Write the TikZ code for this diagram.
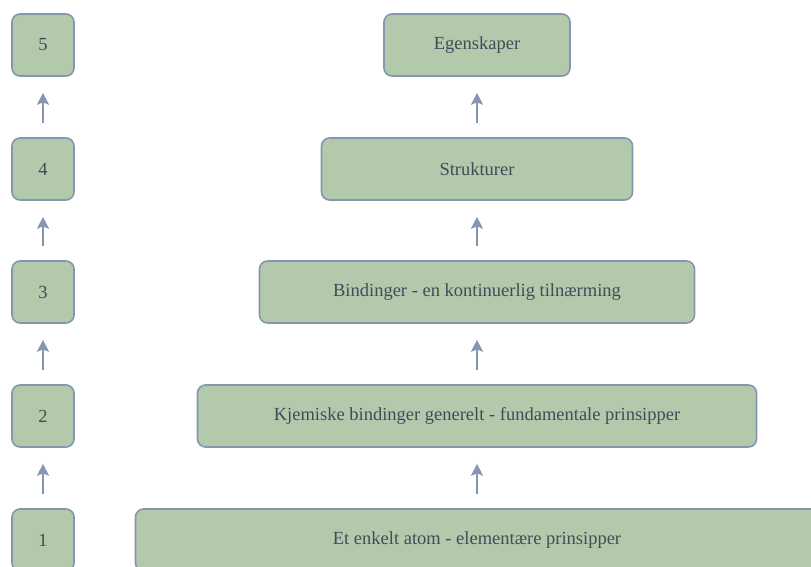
\documentclass[tikz,border=0pt]{standalone}
\usepackage{fontspec}
\setmainfont{Liberation Serif}
\usetikzlibrary{arrows.meta}
\definecolor{boxfill}{HTML}{B2C9AB}
\definecolor{boxline}{HTML}{8496B0}
\definecolor{boxtext}{HTML}{454A5A}
\tikzset{
  level/.style={draw=boxline, line width=1.6pt, fill=boxfill, rounded corners=8pt,
    minimum height=62pt, inner sep=0pt, text=boxtext, font=\fontsize{18.5}{20}\selectfont},
  numbox/.style={level, minimum width=62pt},
  uparrow/.style={draw=boxline, line width=1.8pt, -{Stealth[length=12pt,width=12pt,inset=2.5pt]}}
}
\begin{document}
\begin{tikzpicture}[x=1pt,y=-1pt]
  \useasboundingbox (0,0) rectangle (811,566);
  \clip (0,0) rectangle (811,566);
  % level numbers
  \node[numbox] (n5) at (43,45) {5};
  \node[numbox] (n4) at (43,169) {4};
  \node[numbox] (n3) at (43,292) {3};
  \node[numbox] (n2) at (43,416) {2};
  \node[numbox] (n1) at (43,540) {1};
  % levels
  \node[level, minimum width=186pt] (l5) at (477,45) {Egenskaper};
  \node[level, minimum width=311pt] (l4) at (477,169) {Strukturer};
  \node[level, minimum width=435pt] (l3) at (477,292) {Bindinger - en kontinuerlig tilnærming};
  \node[level, minimum width=559pt] (l2) at (477,416) {Kjemiske bindinger generelt - fundamentale prinsipper};
  \node[level, minimum width=683pt] (l1) at (477,540) {Et enkelt atom - elementære prinsipper};
  % arrows between levels
  \foreach \a/\b in {n1/n2, n2/n3, n3/n4, n4/n5, l1/l2, l2/l3, l3/l4, l4/l5}{
    \draw[uparrow] ([yshift=14pt]\a.north) -- ([yshift=-16pt]\b.south);
  }
\end{tikzpicture}
\end{document}
